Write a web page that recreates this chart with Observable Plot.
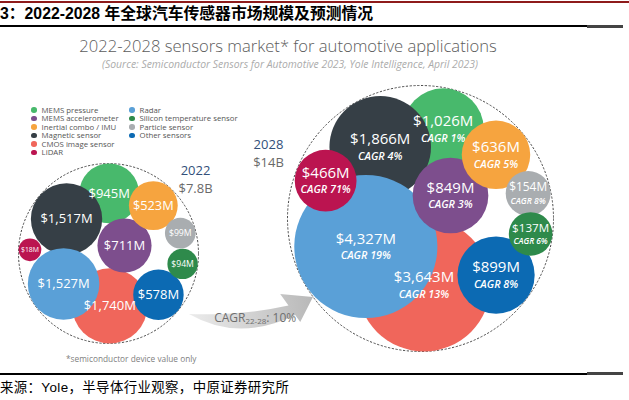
<!DOCTYPE html>
<html><head><meta charset="utf-8">
<script src="https://cdn.jsdelivr.net/npm/d3@7"></script>
<script src="https://cdn.jsdelivr.net/npm/@observablehq/plot@0.6"></script>
<style>
body{margin:0;background:#fff;}
#page{position:relative;width:629px;height:400px;overflow:hidden;background:#fff;font-family:"Open Sans",sans-serif;}
.abs{position:absolute;white-space:nowrap;}
#redline{left:0;top:1px;width:629px;height:2px;background:#8E1B1B;}
#hdr{left:0;top:4px;font-weight:bold;font-size:15.8px;font-family:"Liberation Sans","Noto Sans CJK SC",sans-serif;color:#000;line-height:20px;}
#hline1{left:0;top:24.5px;width:587px;height:2px;background:#000;}
#hline2{left:587px;top:24.5px;width:36px;height:3px;background:#444;}
#chart{left:0;top:28px;}
#fline1{left:0;top:372.5px;width:587px;height:2px;background:#000;}
#fline2{left:587px;top:372px;width:36px;height:3px;background:#444;}
#src{left:0;top:379px;font-size:13.4px;letter-spacing:0.4px;font-family:"Liberation Sans","Noto Sans CJK SC",sans-serif;color:#000;line-height:18px;}
#title{left:0;width:576px;text-align:center;top:37px;font-weight:300;font-size:16.6px;color:#5c5c5c;line-height:18px;}
#sub{left:0;width:580px;text-align:center;top:58.5px;font-style:italic;font-size:10.4px;color:#ababab;line-height:11px;}
#note{left:66px;top:353px;font-size:8.3px;color:#808080;line-height:12px;}
#legend{left:31px;top:105.5px;display:grid;grid-auto-flow:column;grid-template-rows:repeat(6,8.55px);grid-template-columns:98px 130px;font-size:7.8px;color:#555;line-height:8.55px;}
#legend .it{display:flex;align-items:center;white-space:nowrap;}
#legend .sw{width:5.6px;height:5.6px;border-radius:50%;margin-right:5px;flex:none;}
</style></head>
<body>
<div id="page">
  <div class="abs" id="redline"></div>
  <div class="abs" id="hdr">3：2022-2028 年全球汽车传感器市场规模及预测情况</div>
  <div class="abs" id="hline1"></div><div class="abs" id="hline2"></div>
  <div class="abs" id="chart"></div>
  <div class="abs" id="title">2022-2028 sensors market* for automotive applications</div>
  <div class="abs" id="sub">(Source: Semiconductor Sensors for Automotive 2023, Yole Intelligence, April 2023)</div>
  <div class="abs" id="legend"></div>
  <div class="abs" id="note">*semiconductor device value only</div>
  <div class="abs" id="fline1"></div><div class="abs" id="fline2"></div>
  <div class="abs" id="src">来源：Yole，半导体行业观察，中原证券研究所</div>
</div>
<script>
// ---------------- data ----------------
const categories = ["MEMS pressure","MEMS accelerometer","Inertial combo / IMU","Magnetic sensor","CMOS image sensor","LiDAR","Radar","Silicon temperature sensor","Particle sensor","Other sensors"];
const value2022 = [945, 711, 523, 1517, 1740, 18, 1527, 94, 99, 578];   // $M
const value2028 = [1026, 849, 636, 1866, 3643, 466, 4327, 137, 154, 899]; // $M
const cagr = [1, 3, 5, 4, 13, 71, 19, 6, 8, 8];                           // % CAGR 22-28
const years = ["2022", "2028"];
const totals = ["$7.8B", "$14B"];
const cagrTotal = "10%";
// arrangement (order only): centre bubble and the ring around it
const centerCategory = "MEMS accelerometer";
const ringOrder = ["Silicon temperature sensor","Other sensors","CMOS image sensor","Radar","LiDAR","Magnetic sensor","MEMS pressure","Inertial combo / IMU","Particle sensor"];
const stackOrder = ["CMOS image sensor","MEMS pressure","Magnetic sensor","Radar","LiDAR","MEMS accelerometer","Inertial combo / IMU","Other sensors","Particle sensor","Silicon temperature sensor"];

// ---------------- styles / layout parameters ----------------
const palette = ["#48B96C","#7D4E8D","#F6A43F","#363F46","#F0665B","#BB1450","#5AA0D7","#2E8A4B","#A9ADB0","#0C6AB3"];
const layoutParams = [
  {cx:108, cy:225, R:90,  k:0.70, start:8, cap:13, label:[0.967,-0.833]},
  {cx:420, cy:190, R:133, k:0.92, start:8, cap:15, label:[-1.143,-0.496]}
];
const W = 629, H = 344;
const labelFont = "'Open Sans', sans-serif";

// ring layout: every ring bubble touches the outer circle, angular share proportional to neighbour radii;
// the centre bubble sits at the point of largest clearance.
function ringLayout(values, L) {
  const r = values.map(v => L.k * (12 + Math.sqrt(v)));
  const ring = ringOrder.map(c => categories.indexOf(c));
  const gaps = ring.map((i, j) => r[i] + r[ring[(j + 1) % ring.length]]);
  const total = d3.sum(gaps);
  let acc = 0;
  const nodes = [];
  ring.forEach((i, j) => {
    const a = (L.start + 360 * acc / total) * Math.PI / 180;
    const d = L.R - r[i];
    nodes.push({i, x: L.cx + d * Math.cos(a), y: L.cy + d * Math.sin(a), r: r[i]});
    acc += gaps[j];
  });
  const ci = categories.indexOf(centerCategory);
  let best = [L.cx, L.cy], bestScore = -Infinity;
  for (let dx = -L.R; dx <= L.R; dx += 1) for (let dy = -L.R; dy <= L.R; dy += 1) {
    if (Math.hypot(dx, dy) > L.R - r[ci]) continue;
    const px = L.cx + dx, py = L.cy + dy;
    let s = Infinity;
    for (const n of nodes) s = Math.min(s, Math.hypot(px - n.x, py - n.y) - n.r);
    if (s > bestScore) { bestScore = s; best = [px, py]; }
  }
  nodes.push({i: ci, x: best[0], y: best[1], r: r[ci]});
  return nodes;
}

const fmt = d3.format(",");
const enc = [], bubbles = [];
years.forEach((yr, gi) => {
  const L = layoutParams[gi];
  const vals = gi === 0 ? value2022 : value2028;
  const nodes = ringLayout(vals, L);
  const e = d3.packEnclose(nodes.map(n => ({x: n.x, y: n.y, r: n.r})));
  enc.push({x: e.x, y: e.y, r: e.r, year: yr, total: totals[gi], gi});
  nodes.forEach(n => bubbles.push({gi, year: yr, category: categories[n.i], value: vals[n.i], cagr: cagr[n.i],
    x: n.x, y: n.y, r: n.r, fs: Math.min(L.cap, 0.45 * n.r + 1.8)}));
});
bubbles.sort((a, b) => stackOrder.indexOf(a.category) - stackOrder.indexOf(b.category));

const valueLabels = bubbles.map(b => ({x: b.x, y: b.gi ? b.y - 0.5 * b.fs : b.y, text: `$${fmt(b.value)}M`, fs: b.fs}));
const cagrLabels = bubbles.filter(b => b.gi === 1).map(b => ({x: b.x, y: b.y + 0.62 * b.fs, text: `CAGR ${b.cagr}%`, fs: 0.72 * b.fs}));
const yearLabels = enc.map(e => ({x: e.x + layoutParams[e.gi].label[0] * e.r, y: e.y + layoutParams[e.gi].label[1] * e.r, year: e.year, total: e.total}));

// curved growth arrow between the two groups
function arrowMark(index, scales) {
  const X = (scales && scales.x) || (v => v), Y = (scales && scales.y) || (v => v);
  const e0 = enc[0], e1 = enc[1];
  const a0 = 37 * Math.PI / 180, a1 = 143.6 * Math.PI / 180;
  const S = [X(e0.x + 1.127 * e0.r * Math.cos(a0)), Y(e0.y + 1.127 * e0.r * Math.sin(a0))];
  const T = [X(e1.x + e1.r * Math.cos(a1)), Y(e1.y + e1.r * Math.sin(a1))];
  const dx = T[0] - S[0], dy = T[1] - S[1], Ln = Math.hypot(dx, dy), s = Ln / 125;
  const ux = dx / Ln, uy = dy / Ln, nx = -uy, ny = ux;
  const P = (a, p) => [S[0] + (ux * a + nx * p) * s, S[1] + (uy * a + ny * p) * s];
  const path = d3.path();
  path.moveTo(...P(0, 0));
  path.quadraticCurveTo(...P(53, 9), ...P(99.6, 5.2));
  path.lineTo(...P(93, -7.4));
  path.lineTo(...P(125, 0));
  path.lineTo(...P(109, 23));
  path.lineTo(...P(105, 15.4));
  path.quadraticCurveTo(...P(45, 35), ...P(0, 0));
  path.closePath();
  const g = d3.create("svg:g");
  const grad = g.append("defs").append("linearGradient").attr("id", "arrowGrad")
    .attr("gradientUnits", "userSpaceOnUse").attr("x1", S[0]).attr("y1", S[1]).attr("x2", T[0]).attr("y2", T[1]);
  grad.append("stop").attr("offset", 0).attr("stop-color", "#ebebeb");
  grad.append("stop").attr("offset", 1).attr("stop-color", "#b8b8b8");
  g.append("path").attr("d", path.toString()).attr("fill", "url(#arrowGrad)");
  const tp = P(65, 12.9);
  const t = g.append("text").attr("x", tp[0]).attr("y", tp[1] + 4).attr("text-anchor", "middle")
    .attr("font-family", labelFont).attr("font-size", 12).attr("fill", "#6e6e6e");
  t.append("tspan").text("CAGR");
  t.append("tspan").attr("font-size", 8).attr("dy", 2.5).text("22-28");
  t.append("tspan").attr("dy", -2.5).text(": " + cagrTotal);
  return g.node();
}

const chart = Plot.plot({
  width: W, height: H, margin: 0,
  x: {domain: [0, W], range: [0, W], axis: null},
  y: {domain: [0, H], range: [0, H], axis: null},
  r: {type: "linear", domain: [0, 1], range: [0, 1]},
  color: {domain: categories, range: palette},
  style: {background: "transparent", overflow: "visible"},
  marks: [
    arrowMark,
    Plot.dot(enc, {x: "x", y: "y", r: "r", fill: "none", stroke: "#4a4a4a", strokeWidth: 1, strokeDasharray: "2.2,1.6"}),
    Plot.dot(bubbles, {x: "x", y: "y", r: "r", fill: "category", sort: null}),
    Plot.text(valueLabels, {x: "x", y: "y", text: "text", fontSize: d => d.fs, fill: "white", fontFamily: labelFont, fontWeight: 500}),
    Plot.text(cagrLabels, {x: "x", y: "y", text: "text", fontSize: d => d.fs, fill: "white", fontFamily: labelFont, fontWeight: 600, fontStyle: "italic"}),
    Plot.text(yearLabels, {x: "x", y: "y", text: d => `${d.year}\n${d.total}`, lineHeight: 1.32, fontSize: 13, fill: "#33507A", fontFamily: labelFont, fontWeight: 500})
  ]
});
// second line of each year label (the total) in grey
d3.select(chart).selectAll("tspan").filter(function() { return totals.includes(this.textContent); })
  .attr("fill", "#6a6a6a").attr("font-weight", 400);
document.getElementById("chart").appendChild(chart);

// legend (two columns, column-first)
const colorScale = chart.scale("color");
const legend = document.getElementById("legend");
categories.forEach(c => {
  const it = document.createElement("div"); it.className = "it";
  const sw = document.createElement("span"); sw.className = "sw"; sw.style.background = colorScale.apply(c);
  const tx = document.createElement("span"); tx.textContent = c;
  it.appendChild(sw); it.appendChild(tx); legend.appendChild(it);
});
</script>
</body></html>
